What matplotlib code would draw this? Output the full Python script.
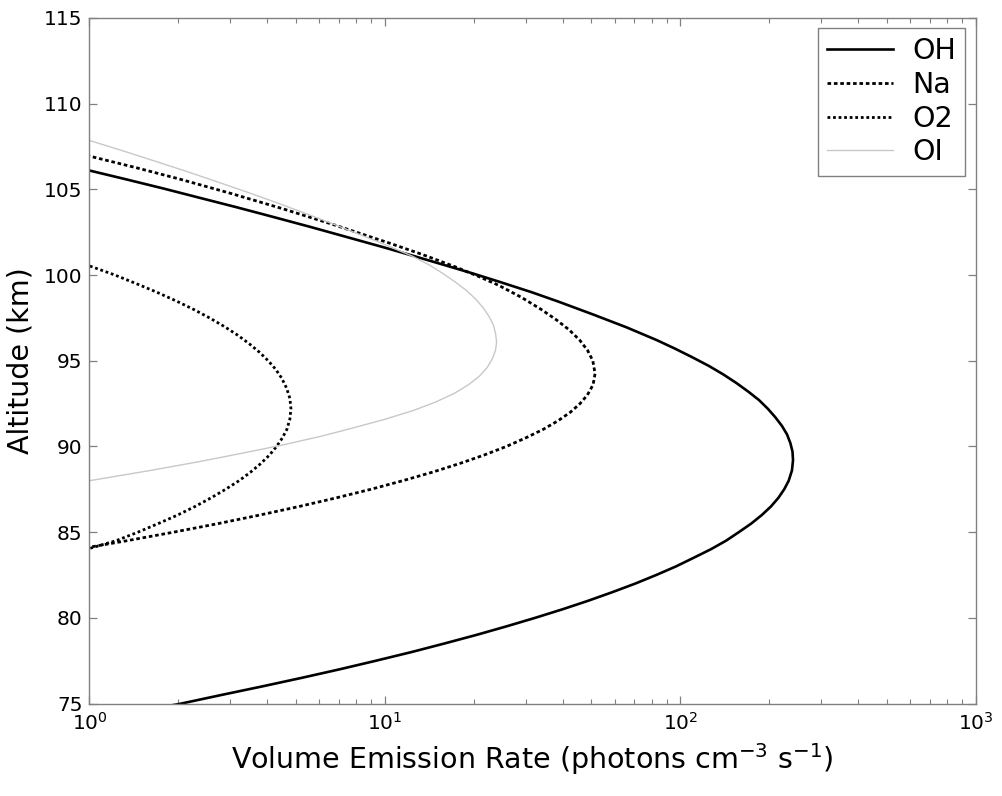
import matplotlib
matplotlib.use("Agg")
import matplotlib.pyplot as plt
from matplotlib.ticker import LogLocator, NullFormatter

plt.rcParams['font.family'] = ['DejaVu Sans']

# ---- data (altitude km, VER photons cm^-3 s^-1) ----
alt_oh = [74.5, 75.0, 75.5, 76.0, 76.5, 77.0, 77.5, 78.0, 78.5, 79.0, 79.5, 80.0,
          80.5, 81.0, 81.5, 82.0, 82.5, 83.0, 83.5, 84.0, 84.5, 85.0, 85.5, 86.0,
          86.5, 87.0, 87.5, 88.0, 88.6, 89.2, 89.7, 90.2, 90.7, 91.2, 91.7, 92.2,
          92.7, 93.2, 93.7, 94.2, 94.7, 95.2, 95.7, 96.2, 96.95, 97.7, 98.45, 99.0,
          99.6, 100.1, 100.6, 101.1, 101.6, 102.2, 102.8, 103.4, 103.95, 104.5,
          105.05, 105.6, 106.1, 106.6]
ver_oh = [1.43, 2.05, 2.80, 3.85, 5.24, 7.05, 9.35, 12.3, 15.9, 20.4, 25.8, 32.3,
          40.0, 48.9, 59.0, 70.5, 83.0, 96.8, 111, 127, 143, 158, 174, 189,
          203, 215, 225, 233, 239, 241, 240, 236, 230, 221, 210, 198,
          185, 170, 155, 140, 125, 110, 96.2, 83.4, 65.8, 50.7, 38.7, 31.4,
          24.5, 19.8, 15.8, 12.6, 10.0, 7.50, 5.62, 4.17, 3.16, 2.37,
          1.78, 1.32, 1.0, 0.76]

alt_na = [83.8, 84.0, 84.5, 85.0, 85.5, 86.0, 86.5, 87.0, 87.5, 88.0, 88.5, 89.0,
          89.5, 90.0, 90.5, 91.0, 91.5, 92.0, 92.5, 93.0, 93.6, 94.25, 95.0, 95.6,
          96.2, 96.8, 97.4, 98.0, 98.7, 99.4, 99.9, 100.5, 101.2, 101.88, 102.9,
          103.85, 104.75, 105.6, 106.25, 106.85, 107.3]
ver_na = [0.80, 0.91, 1.34, 1.93, 2.73, 3.78, 5.14, 6.85, 8.97, 11.5, 14.5, 17.9,
          21.7, 25.8, 30.0, 34.4, 38.6, 42.5, 45.8, 48.5, 50.7, 51.5, 50.6, 48.6,
          45.7, 42.1, 38.0, 33.8, 29.0, 24.3, 20.9, 17.2, 13.4, 10.3, 6.82,
          4.55, 3.03, 2.02, 1.45, 1.05, 0.82]

alt_o2 = [83.8, 84.0, 84.5, 85.0, 85.5, 86.0, 86.5, 87.0, 87.5, 88.0, 88.5, 89.0,
          89.5, 90.0, 90.5, 91.0, 91.6, 92.2, 92.8, 93.4, 94.0, 94.5, 95.0, 95.5,
          96.0, 96.5, 97.0, 97.5, 98.0, 98.5, 99.0, 99.5, 100.0, 100.7]
ver_o2 = [0.93, 0.98, 1.23, 1.46, 1.71, 1.99, 2.28, 2.58, 2.89, 3.21, 3.51, 3.80,
          4.07, 4.30, 4.50, 4.66, 4.77, 4.81, 4.77, 4.65, 4.47, 4.27, 4.03, 3.76,
          3.47, 3.17, 2.86, 2.55, 2.25, 1.96, 1.69, 1.44, 1.22, 0.94]

alt_oi = [87.6, 88.0, 88.6, 89.1, 89.6, 90.1, 90.6, 91.1, 91.6, 92.1, 92.6, 93.1,
          93.6, 94.1, 94.6, 95.1, 95.6, 96.1, 96.6, 97.1, 97.6, 98.1, 98.6, 99.1,
          99.6, 100.1, 100.6, 101.1, 101.7, 102.3, 103.0, 103.6, 104.2, 104.8,
          105.4, 106.05, 106.7, 107.3, 107.9, 108.3]
ver_oi = [0.72, 1.0, 1.61, 2.33, 3.28, 4.55, 6.10, 7.89, 10.07, 12.5, 14.9, 17.2,
          19.2, 20.9, 22.2, 23.1, 23.7, 23.9, 23.7, 23.3, 22.5, 21.5, 20.3, 18.9,
          17.3, 15.7, 14.1, 12.4, 10.26, 8.41, 6.64, 5.38, 4.34, 3.47,
          2.75, 2.13, 1.63, 1.27, 0.98, 0.83]

labels = ["OH", "Na", "O2", "OI"]
y_ticks = [75, 80, 85, 90, 95, 100, 105, 110, 115]

# ---- figure ----
fig = plt.figure(figsize=(10.02, 7.96), dpi=100)
ax = fig.add_axes([0.0893, 0.1162, 0.8843, 0.8612])

ax.plot(ver_oh, alt_oh, color='black', lw=1.9, label=labels[0])
ax.plot(ver_na, alt_na, color='black', lw=2.0, linestyle=(0, (1.3, 1.0)), label=labels[1])
ax.plot(ver_o2, alt_o2, color='black', lw=2.0, linestyle=(0, (1.0, 1.0)), label=labels[2])
ax.plot(ver_oi, alt_oi, color='#c8c8c8', lw=1.0, label=labels[3])

ax.set_xscale('log')
ax.set_xlim(1, 1000)
ax.set_ylim(75, 115)
ax.set_yticks(y_ticks)
ax.xaxis.set_major_locator(LogLocator(base=10, numticks=10))
ax.xaxis.set_minor_locator(LogLocator(base=10, subs=range(2, 10), numticks=20))
ax.xaxis.set_minor_formatter(NullFormatter())

spine_col = '#808080'
for s in ax.spines.values():
    s.set_color(spine_col)
    s.set_linewidth(1.0)

ax.tick_params(axis='both', which='both', direction='in', top=True, right=True,
               color=spine_col, labelcolor='black', labelsize=14.5)
ax.tick_params(axis='both', which='major', length=6, width=0.9, pad=5)
ax.tick_params(axis='both', which='minor', length=3.5, width=0.8)
ax.tick_params(axis='x', which='major', pad=6)

ax.set_xlabel('Volume Emission Rate (photons cm$^{-3}$ s$^{-1}$)', fontsize=20.5, labelpad=5)
ax.set_ylabel('Altitude (km)', fontsize=20.5, labelpad=7)

leg = ax.legend(loc='upper right', fontsize=20.5, frameon=True, fancybox=False,
                edgecolor=spine_col, framealpha=1, handlelength=2.3,
                handletextpad=0.7, labelspacing=0.2, borderpad=0.32,
                borderaxespad=0.36)
leg.get_frame().set_linewidth(1.0)

fig.savefig('out.png', dpi=100, facecolor='white')
